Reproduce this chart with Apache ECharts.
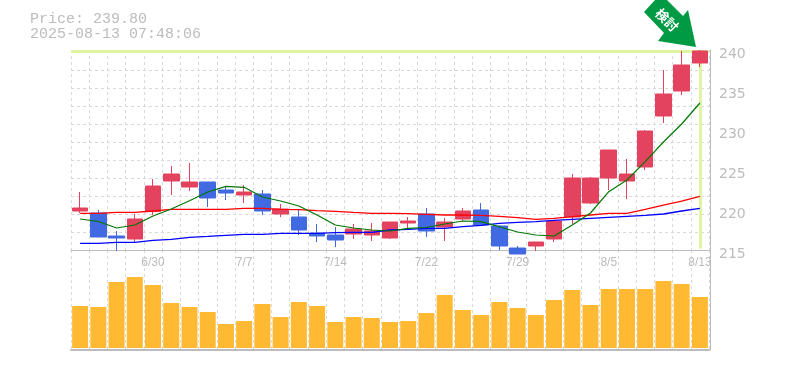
<!DOCTYPE html>
<html><head><meta charset="utf-8">
<style>html,body{margin:0;padding:0;background:#fff}#c{width:785px;height:370px}</style>
<script src="https://cdn.jsdelivr.net/npm/echarts@6/dist/echarts.min.js"></script>
</head><body><div id="c"></div>
<script>
const categories=['6/24','6/25','6/26','6/27','6/30','7/1','7/2','7/3','7/4','7/7','7/8','7/9','7/10','7/11','7/14','7/15','7/16','7/17','7/18','7/22','7/23','7/24','7/25','7/28','7/29','7/30','7/31','8/1','8/4','8/5','8/6','8/7','8/8','8/12','8/13'];
const tickLabels=['6/30','7/7','7/14','7/22','7/29','8/5','8/13'];
// open, close, low, high
const candles=[
[219.875,220.25,219.625,222.25],[219.625,216.625,216.625,220],[216.75,216.5,214.9,217.375],[216.375,218.875,215.875,219.5],[219.8,223,219.375,223.875],
[223.625,224.5,221.875,225.5],[222.875,223.5,222.375,225.875],[223.5,221.5,220.375,223.5],[222.5,222.125,221.25,223],[221.875,222.25,220.875,223.125],
[222,219.875,219.375,222.5],[219.5,220.125,219.125,220.75],[219.125,217.5,216.875,220.125],[217.1,216.75,216,218.25],[216.875,216.25,215.375,217.875],
[217,217.625,216.375,218.25],[216.875,217.375,216.125,218.375],[216.5,218.5,216.375,218.5],[218.375,218.625,217.75,219.125],[219.5,217.375,216.625,220.25],
[217.875,218.5,216.125,219],[218.875,219.875,218.625,220.25],[220,218.125,218.125,220.875],[218,215.5,215,218.125],[215.25,214.5,214.5,215.5],
[215.5,216,214.875,216],[216.375,218.625,216,218.625],[219.125,224,218.25,224.5],[220.875,224,220.75,224.125],[224,227.5,222.5,227.5],
[223.625,224.5,221.375,226.375],[225.375,229.875,225,230],[231.75,234.5,230.875,237.5],[234.875,238.125,234.375,239.875],[238.375,239.875,237.875,240]];
const maShort=[218.875,218.56,217.75,218.125,219.25,220.125,221.16,222.25,222.96,222.84,221.625,221.125,220.5,219.375,218.125,217.75,217.5,217.375,217.71,217.81,218.25,218.625,218.54,217.91,217.25,216.875,216.75,218.125,219.625,222.29,223.75,226.04,228.5,230.75,233.375];
const maMid=[219.59,219.59,219.71,219.71,219.875,220.09,220.09,220.09,220.09,220.21,220.21,220.09,220.05,219.91,219.84,219.71,219.59,219.59,219.54,219.46,219.375,219.375,219.34,219.21,219.04,218.84,218.96,219.16,219.375,219.59,219.59,220.09,220.6,221.1,221.71];
const maLong=[215.84,215.84,215.96,215.96,216.21,216.34,216.59,216.71,216.84,216.96,216.96,217.09,217.09,217.09,217.16,217.21,217.21,217.5,217.59,217.71,217.71,217.91,218.09,218.34,218.46,218.54,218.71,218.84,218.96,219.09,219.21,219.34,219.5,219.875,220.21];
const volumes=[42,41,66,71,63,45,41,36,24,27,44,31,46,42,26,31,30,26,27,35,53,38,33,46,40,33,48,58,43,59,59,59,67,64,51];
const lastPrice=239.8, priceText='Price: 239.80', timeText='2025-08-13 07:48:06', arrowText='検討';
const gridStep=18, gridRange=200;
const gray='#bcbcbc', dash='#d9d9d9', up='#e3435f', down='#4169e1', hl='#e0f5a0', vol='#ffb933', arrow='#009944';
const vSplit={show:true,interval:0,lineStyle:{color:dash,width:1,type:[3,3]}};
const chart=echarts.init(document.getElementById('c'),null,{renderer:'canvas'});
chart.setOption({
 animation:false,backgroundColor:'#fff',
 grid:[{left:71,right:76,top:50,height:200},{left:71,right:76,top:250,height:100}],
 xAxis:[
  {type:'category',gridIndex:0,data:categories,boundaryGap:true,axisLine:{show:true,onZero:false,lineStyle:{color:gray,width:1}},axisTick:{show:false},splitLine:vSplit,
   axisLabel:{interval:(i,v)=>tickLabels.includes(v),color:gray,fontFamily:'Liberation Sans',fontSize:12,margin:7}},
  {type:'category',gridIndex:1,data:categories,boundaryGap:true,axisLine:{show:true,onZero:false,lineStyle:{color:gray,width:2}},axisTick:{show:false},axisLabel:{show:false},splitLine:vSplit}
 ],
 yAxis:[
  {type:'value',gridIndex:0,position:'right',offset:1,min:215,max:240,interval:5,axisLine:{show:true,lineStyle:{color:gray,width:1}},axisTick:{show:false},splitLine:{show:false},
   axisLabel:{color:gray,fontFamily:'DejaVu Sans',fontSize:14,margin:9,verticalAlign:'top',lineHeight:8}},
  {type:'value',gridIndex:0,position:'left',min:0,max:gridRange,interval:gridStep,axisLine:{show:false},axisTick:{show:false},axisLabel:{show:false},
   splitLine:{show:true,showMaxLine:false,lineStyle:{color:dash,width:1,type:[3,3]}}},
  {type:'value',gridIndex:1,position:'right',offset:1,min:-2,max:98,axisLine:{show:true,lineStyle:{color:gray,width:1}},axisTick:{show:false},axisLabel:{show:false},splitLine:{show:false}}
 ],
 series:[
  {type:'line',name:'hl',xAxisIndex:0,yAxisIndex:0,data:[],z:1,silent:true,
   markLine:{z:1,silent:true,symbol:'none',animation:false,label:{show:false},lineStyle:{color:hl,width:3,type:'solid'},
    data:[{yAxis:lastPrice},[{coord:[categories[34],lastPrice]},{coord:[categories[34],215.15]}]]}},
  {type:'bar',xAxisIndex:1,yAxisIndex:2,data:volumes,barWidth:16,itemStyle:{color:vol},z:2},
  {type:'candlestick',xAxisIndex:0,yAxisIndex:0,data:candles,barWidth:16,clip:false,z:3,
   itemStyle:{color:up,color0:down,borderColor:up,borderColor0:down,borderWidth:1}},
  {type:'line',xAxisIndex:0,yAxisIndex:0,data:maLong,showSymbol:false,symbol:'none',lineStyle:{color:'#0000ff',width:1.3},z:4,clip:false},
  {type:'line',xAxisIndex:0,yAxisIndex:0,data:maMid,showSymbol:false,symbol:'none',lineStyle:{color:'#ff0000',width:1.3},z:4,clip:false},
  {type:'line',xAxisIndex:0,yAxisIndex:0,data:maShort,showSymbol:false,symbol:'none',lineStyle:{color:'#007700',width:1.2},z:5,clip:false}
 ],
 graphic:[
  {type:'text',left:30,top:12,silent:true,style:{text:priceText,fill:gray,font:'15px "Liberation Mono"'}},
  {type:'text',left:30,top:27,silent:true,style:{text:timeText,fill:gray,font:'15px "Liberation Mono"'}},
  {type:'polygon',silent:true,z:20,shape:{points:[[644,12],[655,0],[667,0],[683,16],[688,10],[696,47],[658,41],[664,33]]},style:{fill:arrow}},
  {type:'text',silent:true,z:21,x:667,y:20,rotation:-Math.PI/4,style:{text:arrowText,fill:'#fff',font:'bold 13px "Noto Sans CJK JP"',align:'center',verticalAlign:'middle'}}
 ]
});
</script></body></html>
